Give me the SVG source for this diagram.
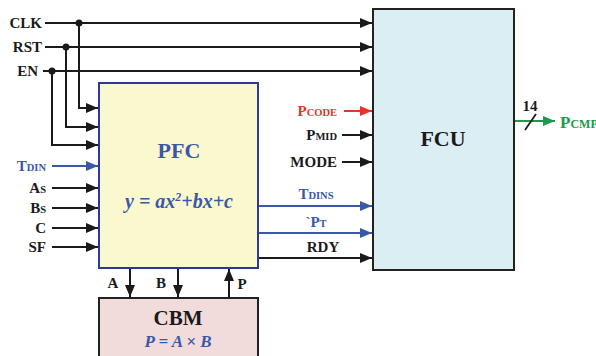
<svg xmlns="http://www.w3.org/2000/svg" width="596" height="356" viewBox="0 0 596 356">
<defs>
<marker id="ak" viewBox="0 0 12 10" refX="12" refY="5" markerWidth="12" markerHeight="10" markerUnits="userSpaceOnUse" orient="auto"><path d="M0,0 L12,5 L0,10 z" fill="#1a1a1a"/></marker>
<marker id="ab" viewBox="0 0 12 10" refX="12" refY="5" markerWidth="12" markerHeight="10" markerUnits="userSpaceOnUse" orient="auto"><path d="M0,0 L12,5 L0,10 z" fill="#3a58a8"/></marker>
<marker id="ar" viewBox="0 0 12 10" refX="12" refY="5" markerWidth="12" markerHeight="10" markerUnits="userSpaceOnUse" orient="auto"><path d="M0,0 L12,5 L0,10 z" fill="#e8322a"/></marker>
<marker id="ag" viewBox="0 0 12 10" refX="12" refY="5" markerWidth="12" markerHeight="10" markerUnits="userSpaceOnUse" orient="auto"><path d="M0,0 L12,5 L0,10 z" fill="#1a9a4a"/></marker>
</defs>
<style>
text{font-family:"Liberation Serif","Times New Roman",serif;font-weight:bold}
.lb{font-size:15px;fill:#1a1a1a}
.sm{font-size:10.5px}
.bl{fill:#3a58a8}
.rd{fill:#e8322a}
.gr{fill:#1a9a4a}
.k{stroke:#1a1a1a;stroke-width:2;fill:none}
.kb{stroke:#3a58a8;stroke-width:2;fill:none}
</style>
<g id="connectors">
<path class="k" d="M45,23 H372" marker-end="url(#ak)"/>
<path class="k" d="M45,47 H372" marker-end="url(#ak)"/>
<path class="k" d="M43,71 H372" marker-end="url(#ak)"/>
<circle cx="79" cy="23" r="3.5" fill="#1a1a1a"/>
<circle cx="66" cy="47" r="3.5" fill="#1a1a1a"/>
<circle cx="52" cy="71" r="3.5" fill="#1a1a1a"/>
<path class="k" d="M79,23 V108 H98" marker-end="url(#ak)"/>
<path class="k" d="M66,47 V127 H98" marker-end="url(#ak)"/>
<path class="k" d="M52,71 V145 H98" marker-end="url(#ak)"/>
<path class="kb" d="M52,166 H98" marker-end="url(#ab)"/>
<path class="k" d="M52,188 H98" marker-end="url(#ak)"/>
<path class="k" d="M52,208 H98" marker-end="url(#ak)"/>
<path class="k" d="M52,228 H98" marker-end="url(#ak)"/>
<path class="k" d="M52,247 H98" marker-end="url(#ak)"/>
<path d="M344,111 H372" stroke="#e8322a" stroke-width="2" fill="none" marker-end="url(#ar)"/>
<path class="k" d="M342,135 H372" marker-end="url(#ak)"/>
<path class="k" d="M342,162 H372" marker-end="url(#ak)"/>
<path class="kb" d="M258,206 H372" marker-end="url(#ab)"/>
<path class="kb" d="M258,233 H372" marker-end="url(#ab)"/>
<path class="k" d="M258,258 H372" marker-end="url(#ak)"/>
<path class="k" d="M130,268 V297" marker-end="url(#ak)"/>
<path class="k" d="M178,268 V297" marker-end="url(#ak)"/>
<path class="k" d="M229,298 V269" marker-end="url(#ak)"/>
<path d="M514,121 H555" stroke="#1a9a4a" stroke-width="2" fill="none" marker-end="url(#ag)"/>
<path d="M525,130 L536,114" stroke="#1a1a1a" stroke-width="1.8"/>
</g>
<g id="labels">
<text class="lb" x="42" y="28" text-anchor="end">CLK</text>
<text class="lb" x="42" y="52" text-anchor="end">RST</text>
<text class="lb" x="38" y="76" text-anchor="end">EN</text>
<text class="lb bl" x="46" y="171" text-anchor="end">T<tspan class="sm">DIN</tspan></text>
<text class="lb" x="46" y="193" text-anchor="end">A<tspan class="sm">S</tspan></text>
<text class="lb" x="46" y="213" text-anchor="end">B<tspan class="sm">S</tspan></text>
<text class="lb" x="46" y="233" text-anchor="end">C</text>
<text class="lb" x="46" y="252" text-anchor="end">SF</text>
<text class="lb rd" x="337" y="116" text-anchor="end">P<tspan class="sm">CODE</tspan></text>
<text class="lb" x="337" y="140" text-anchor="end">P<tspan class="sm">MID</tspan></text>
<text class="lb" x="337" y="167" text-anchor="end">MODE</text>
<text class="lb bl" x="316" y="199" text-anchor="middle">T<tspan class="sm">DINS</tspan></text>
<text class="lb bl" x="316" y="227" text-anchor="middle">`P<tspan class="sm">T</tspan></text>
<text class="lb" x="323" y="252" text-anchor="middle">RDY</text>
<text class="lb" x="113" y="288" text-anchor="middle">A</text>
<text class="lb" x="161" y="288" text-anchor="middle">B</text>
<text class="lb" x="242" y="289" text-anchor="middle">P</text>
<text class="lb" x="530" y="111" text-anchor="middle" font-size="16">14</text>
<text class="gr" x="560" y="128" font-size="17">P<tspan font-size="12">CMP</tspan></text>
</g>
<g id="PFC">
<rect x="99" y="83" width="159" height="185" fill="#faf8ce" stroke="#2b3990" stroke-width="2"/>
<text x="179" y="158" text-anchor="middle" font-size="22" class="bl">PFC</text>
<text x="179" y="208" text-anchor="middle" font-size="20" font-style="italic" class="bl">y = ax<tspan font-size="12" dy="-7">2</tspan><tspan dy="7">+bx+c</tspan></text>
</g>
<g id="FCU">
<rect x="373" y="9" width="141" height="261" fill="#dbeef3" stroke="#222" stroke-width="2"/>
<text x="443" y="146" text-anchor="middle" font-size="22" fill="#1a1a1a">FCU</text>
</g>
<g id="CBM">
<rect x="99" y="298" width="159" height="70" fill="#f2dcdb" stroke="#222" stroke-width="2"/>
<text x="178" y="325" text-anchor="middle" font-size="21" fill="#1a1a1a">CBM</text>
<text x="178" y="347" text-anchor="middle" font-size="17" font-style="italic" class="bl">P = A × B</text>
</g>
</svg>
